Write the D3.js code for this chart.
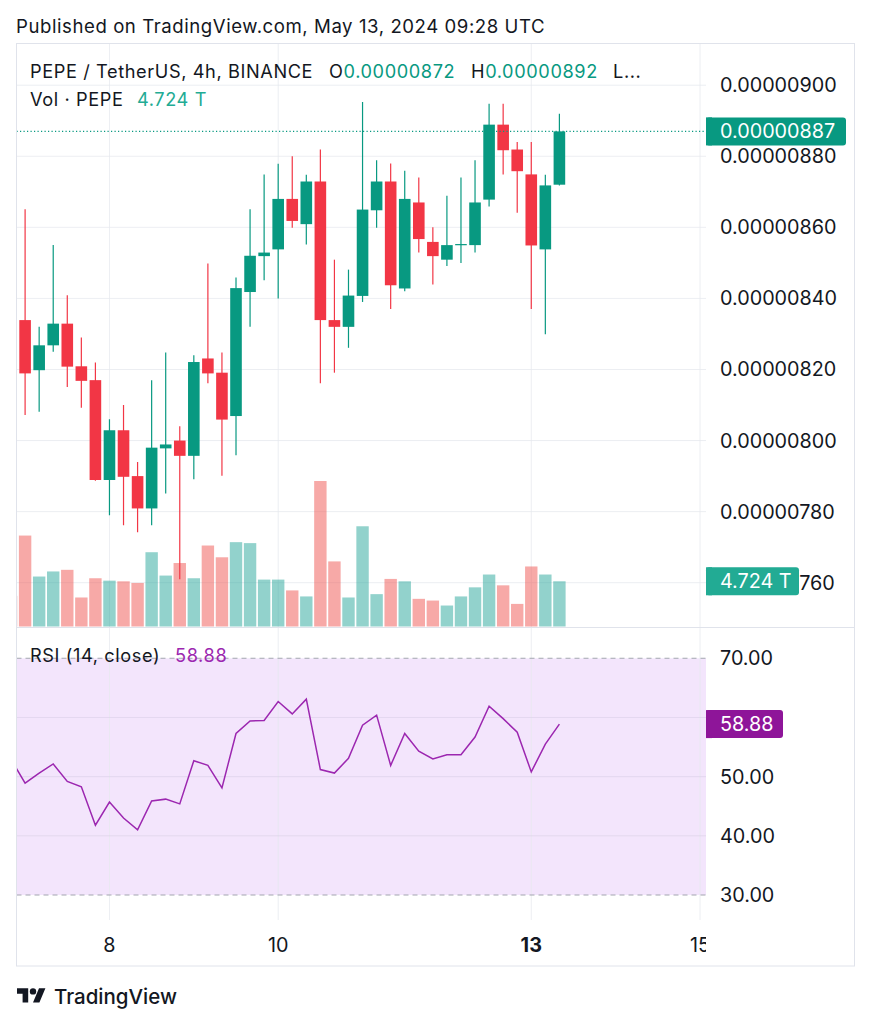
<!DOCTYPE html>
<html><head><meta charset="utf-8">
<script src="https://cdn.jsdelivr.net/npm/d3@7"></script>
<style>
html,body{margin:0;padding:0;background:#fff;}
svg{display:block;font-family:Inter,"Noto Sans",sans-serif;}
</style></head>
<body><svg id="c" width="871" height="1024"></svg>
<script>
// ---------- DATA ----------
const PRICE_UNIT = 1e-8;               // values below are in units of 1e-8 USDT
const FIRST_CANDLE = "2024-05-06T20:00:00Z";  // 4h candles
const opens  = [836.0,833.9,819.8,826.8,832.9,820.9,817.0,788.9,802.9,790.0,780.9,797.8,800.0,795.7,823.1,819.1,806.9,841.8,851.9,853.8,868.0,860.9,872.9,833.9,832.0,840.7,864.8,872.9,842.8,867.0,855.9,850.9,855.0,855.0,867.8,888.9,881.9,874.9,853.8,872.0];
const highs  = [838.0,865.1,832.0,855.0,840.9,829.0,822.0,806.0,810.0,794.0,817.0,824.8,804.0,824.0,849.8,824.8,845.9,865.1,874.9,877.9,880.0,874.8,881.9,850.9,848.1,895.3,878.9,878.0,875.9,874.0,860.0,868.9,874.0,878.9,894.8,894.8,884.0,884.0,874.8,892.0];
const lows   = [832.0,807.2,808.1,825.0,815.1,809.2,788.7,779.0,776.2,774.2,776.2,785.1,761.0,789.1,816.1,790.1,795.9,832.0,845.1,840.0,859.9,855.2,816.1,819.1,826.1,839.0,859.9,837.0,842.0,852.9,843.9,849.1,850.0,852.9,865.9,874.9,864.1,837.0,829.9,871.8];
const closes = [834.0,818.9,826.8,832.9,820.8,816.8,788.9,802.9,789.8,780.9,798.0,798.9,795.7,822.1,818.9,805.9,842.9,852.0,852.9,868.0,861.8,872.9,833.9,832.0,840.8,865.0,872.9,843.7,868.0,856.7,851.9,855.0,855.3,867.0,888.9,881.7,875.8,854.9,871.8,887.0];
const volumesT = [3.2,9.5,5.22,5.75,5.92,3.03,5.04,4.79,4.72,4.55,7.76,5.32,6.63,5.04,8.46,7.23,8.81,8.71,4.9,4.9,3.77,3.14,15.2,6.8,3.03,10.47,3.38,4.97,4.72,2.89,2.71,2.19,3.14,4.09,5.43,4.3,2.36,6.27,5.43,4.724];
const rsiValues = [52.9,48.9,50.6,52.15,49.2,48.3,41.8,45.7,43.0,41.0,45.9,46.2,45.4,52.7,51.9,48.1,57.3,59.4,59.5,62.7,60.6,63.1,51.2,50.6,53.1,58.7,60.4,51.9,57.3,54.3,53.0,53.7,53.7,56.7,61.9,59.8,57.5,50.8,55.5,58.88];
const priceTicks = [760,780,800,820,840,860,880,900];
const rsiTicks = [30,40,50,60,70];
const rsiBands = [30,70];
const timeTicks = ["2024-05-08T00:00:00Z","2024-05-10T00:00:00Z","2024-05-13T00:00:00Z","2024-05-15T00:00:00Z"];
const timeTickLabels = ["8","10","13","15"];
const timeTickBold = [false,false,true,false];
const headerText = "Published on TradingView.com, May 13, 2024 09:28 UTC";

// ---------- LAYOUT ----------
const FRAME = {x0:16.5, y0:43.5, x1:854.5, y1:966};
const PANE = {l:16.5, r:706};
const MAIN = {t:44, b:627};
const RSIP = {t:628, b:920};
const UP = "#089981", DOWN = "#f23645";
const TXT = "#131722";
const AXIS_FS = 19.8, LEG_FS = 18.2, LEG_LS = 0.6;

const svg = d3.select("#c");
const t0 = new Date(FIRST_CANDLE);
const times = opens.map((_, i) => d3.utcHour.offset(t0, 4 * i));
const candles = times.map((t, i) => ({t, o:opens[i], h:highs[i], l:lows[i], c:closes[i], v:volumesT[i], r:rsiValues[i]}));
const last = candles[candles.length-1];

const x = d3.scaleUtc()
  .domain([new Date("2024-05-07T00:00:00Z"), new Date("2024-05-15T00:00:00Z")])
  .range([25.1, 700]);
const y = d3.scaleLinear().domain([760, 900]).range([582.7, 85.2]);
const yv = d3.scaleLinear().domain([0, d3.max(volumesT)]).range([626.5, 481]);
const yr = d3.scaleLinear().domain([30, 70]).range([895, 658.3]);

const defs = svg.append("defs");
defs.append("clipPath").attr("id","clipMain").append("rect")
  .attr("x",PANE.l).attr("y",MAIN.t).attr("width",PANE.r-PANE.l).attr("height",MAIN.b-MAIN.t);
defs.append("clipPath").attr("id","clipRsi").append("rect")
  .attr("x",PANE.l).attr("y",RSIP.t).attr("width",PANE.r-PANE.l).attr("height",RSIP.b-RSIP.t);
defs.append("clipPath").attr("id","clipTime").append("rect")
  .attr("x",PANE.l).attr("y",RSIP.b).attr("width",PANE.r-PANE.l).attr("height",FRAME.y1-RSIP.b);

// header
svg.append("text").attr("x",16).attr("y",26).attr("dominant-baseline","central")
  .attr("font-size",18.6).attr("letter-spacing",0.56).attr("fill",TXT).text(headerText);

// RSI background
svg.append("rect").attr("x",PANE.l).attr("width",PANE.r-PANE.l)
  .attr("y",yr(70)).attr("height",yr(30)-yr(70)).attr("fill","#f3e5fc");

// vertical grid
svg.append("g").selectAll("line").data(timeTicks).join("line")
  .attr("x1",d=>x(new Date(d))).attr("x2",d=>x(new Date(d)))
  .attr("y1",MAIN.t).attr("y2",RSIP.b).attr("stroke","#e6e8ee").attr("stroke-opacity",0.75);

// horizontal grid main
svg.append("g").selectAll("line").data(priceTicks).join("line")
  .attr("x1",PANE.l).attr("x2",PANE.r).attr("y1",d=>y(d)).attr("y2",d=>y(d))
  .attr("stroke","#e6e8ee").attr("stroke-opacity",0.75);
// horizontal grid rsi
svg.append("g").selectAll("line").data(rsiTicks.filter(d=>!rsiBands.includes(d))).join("line")
  .attr("x1",PANE.l).attr("x2",PANE.r).attr("y1",d=>yr(d)).attr("y2",d=>yr(d))
  .attr("stroke","#d9cfe6").attr("stroke-opacity",0.6);

// volume
const gMain = svg.append("g").attr("clip-path","url(#clipMain)");
gMain.append("g").selectAll("rect").data(candles).join("rect")
  .attr("x",d=>x(d.t)-6.2).attr("width",12.4)
  .attr("y",d=>yv(d.v)).attr("height",d=>yv(0)-yv(d.v))
  .attr("fill",d=>d.c>=d.o?"#26a69a":"#ef5350").attr("fill-opacity",0.5);

// last price dotted line
svg.append("line").attr("x1",PANE.l).attr("x2",PANE.r).attr("y1",y(last.c)).attr("y2",y(last.c))
  .attr("stroke",UP).attr("stroke-width",1.2).attr("stroke-dasharray","1.2,2.3");

// candles
const gc = gMain.append("g").selectAll("g").data(candles).join("g");
gc.append("line").attr("x1",d=>x(d.t)).attr("x2",d=>x(d.t))
  .attr("y1",d=>y(d.h)).attr("y2",d=>y(d.l))
  .attr("stroke",d=>d.c>=d.o?UP:DOWN).attr("stroke-width",1.2);
gc.append("rect").attr("x",d=>x(d.t)-5.8).attr("width",11.6)
  .attr("y",d=>y(Math.max(d.o,d.c)))
  .attr("height",d=>Math.max(1.2, Math.abs(y(d.o)-y(d.c))))
  .attr("fill",d=>d.c>=d.o?UP:DOWN);

// separator line between panes
svg.append("line").attr("x1",FRAME.x0).attr("x2",FRAME.x1).attr("y1",627.5).attr("y2",627.5)
  .attr("stroke","#e0e3eb").attr("stroke-width",1.2);

// RSI bands (dashed)
svg.append("g").selectAll("line").data(rsiBands).join("line")
  .attr("x1",PANE.l).attr("x2",PANE.r).attr("y1",d=>yr(d)).attr("y2",d=>yr(d))
  .attr("stroke","#a3a6af").attr("stroke-dasharray","5,4").attr("stroke-width",1.1);

// RSI line
svg.append("g").attr("clip-path","url(#clipRsi)").append("path")
  .datum(candles)
  .attr("d", d3.line().x(d=>x(d.t)).y(d=>yr(d.r)))
  .attr("fill","none").attr("stroke","#9c27b0").attr("stroke-width",1.5);

// price axis labels
const fmtPrice = v => (v*PRICE_UNIT).toFixed(8);
svg.append("g").selectAll("text").data(priceTicks).join("text")
  .attr("x",720).attr("y",d=>y(d)).attr("dominant-baseline","central")
  .attr("font-size",AXIS_FS).attr("fill",TXT).text(fmtPrice);
// RSI scale labels (the one hidden under the live value label is skipped, as in the reference)
svg.append("g").selectAll("text").data(rsiTicks.filter(d => Math.abs(yr(d) - yr(last.r)) > 22)).join("text")
  .attr("x",720).attr("y",d=>yr(d)).attr("dominant-baseline","central")
  .attr("font-size",AXIS_FS).attr("fill",TXT).text(d=>d.toFixed(2));

// value boxes
function valueBox(cy, w, color, label){
  const g = svg.append("g");
  g.append("rect").attr("x",PANE.r).attr("y",cy-14).attr("width",w).attr("height",28).attr("rx",3).attr("fill",color);
  g.append("rect").attr("x",PANE.r).attr("y",cy-14).attr("width",6).attr("height",28).attr("fill",color);
  g.append("text").attr("x",720).attr("y",cy).attr("dominant-baseline","central")
    .attr("font-size",AXIS_FS).attr("fill","#fff").text(label);
}
valueBox(y(last.c), 140, UP, fmtPrice(last.c));
valueBox(yv(last.v), 93, "#22ab94", last.v.toFixed(3) + " T");
valueBox(yr(last.r), 77, "#8e1599", last.r.toFixed(2));

// time axis
svg.append("g").attr("clip-path","url(#clipTime)").selectAll("text").data(timeTicks).join("text")
  .attr("x",d=>x(new Date(d))).attr("y",944.5).attr("text-anchor","middle").attr("dominant-baseline","central")
  .attr("font-size",AXIS_FS).attr("font-weight",(d,i)=>timeTickBold[i]?700:400).attr("fill",TXT)
  .text((d,i)=>timeTickLabels[i]);

// legends
const leg1 = svg.append("text").attr("y",71).attr("dominant-baseline","central")
  .attr("font-size",LEG_FS).attr("letter-spacing",LEG_LS).attr("fill",TXT);
leg1.append("tspan").attr("x",30).text("PEPE / TetherUS, 4h, BINANCE");
leg1.append("tspan").attr("x",329).text("O");
leg1.append("tspan").attr("fill",UP).text(fmtPrice(last.o));
leg1.append("tspan").attr("x",471).text("H");
leg1.append("tspan").attr("fill",UP).text(fmtPrice(last.h));
leg1.append("tspan").attr("x",613).text("L...");

const leg2 = svg.append("text").attr("y",99).attr("dominant-baseline","central")
  .attr("font-size",LEG_FS).attr("letter-spacing",LEG_LS).attr("fill",TXT);
leg2.append("tspan").attr("x",30).text("Vol · PEPE");
leg2.append("tspan").attr("x",137).attr("fill","#22ab94").text(last.v.toFixed(3) + " T");

const leg3 = svg.append("text").attr("y",655).attr("dominant-baseline","central")
  .attr("font-size",LEG_FS).attr("letter-spacing",LEG_LS).attr("fill",TXT);
leg3.append("tspan").attr("x",30).text("RSI (14, close)");
leg3.append("tspan").attr("x",175).attr("fill","#9c27b0").text(last.r.toFixed(2));

// frame
svg.append("rect").attr("x",FRAME.x0).attr("y",FRAME.y0).attr("width",FRAME.x1-FRAME.x0).attr("height",FRAME.y1-FRAME.y0)
  .attr("fill","none").attr("stroke","#e0e3eb").attr("stroke-width",1);

// footer logo
const logo = svg.append("g").attr("transform","translate(17,985) scale(0.8)").attr("fill",TXT);
logo.append("path").attr("d","M14 22H7V11H0V4h14v18zM28 22h-8l7.5-18h8L28 22z");
logo.append("circle").attr("cx",20).attr("cy",8).attr("r",4);
svg.append("text").attr("x",54).attr("y",996).attr("dominant-baseline","central")
  .attr("font-size",20.5).attr("font-weight",500).attr("fill",TXT).text("TradingView");
</script>
</body></html>
